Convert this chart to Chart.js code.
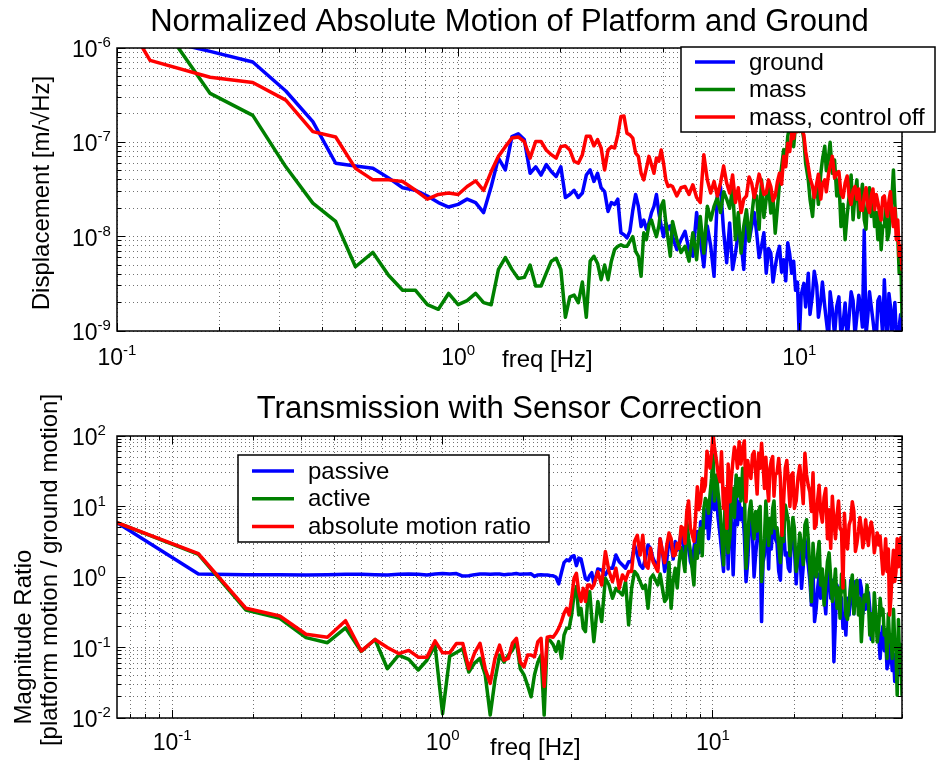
<!DOCTYPE html>
<html>
<head>
<meta charset="utf-8">
<title>Normalized Absolute Motion / Transmission</title>
<script src="https://cdn.jsdelivr.net/npm/chart.js@4.4.0/dist/chart.umd.min.js"></script>
<style>
  body { margin: 0; background: #fff; }
  #wrap { position: relative; width: 936px; height: 764px; }
  canvas { position: absolute; left: 0; }
  #top-plot { top: 0; }
  #bottom-plot { top: 380px; }
</style>
</head>
<body>
<div id="wrap">
  <canvas id="top-plot" width="936" height="380"></canvas>
  <canvas id="bottom-plot" width="936" height="384"></canvas>
</div>
<script>
// ---- top panel: absolute motion [m/sqrt(Hz)] ----
const topFreq = [0.0625, 0.125, 0.1875, 0.25, 0.3125, 0.375, 0.4375, 0.5, 0.5625, 0.625,
  0.6875, 0.75, 0.8125, 0.875, 0.9375, 1, 1.0625, 1.125, 1.1875, 1.25,
  1.3125, 1.375, 1.4375, 1.5, 1.5625, 1.625, 1.6875, 1.75, 1.8125, 1.875,
  1.9375, 2, 2.0625, 2.125, 2.1875, 2.25, 2.3125, 2.375, 2.4375, 2.5,
  2.5625, 2.625, 2.6875, 2.75, 2.8125, 2.875, 2.9375, 3, 3.0625, 3.125,
  3.1875, 3.25, 3.3125, 3.375, 3.4375, 3.5, 3.5625, 3.625, 3.6875, 3.75,
  3.8125, 3.875, 3.9375, 4, 4.0625, 4.125, 4.1875,
  4.25, 4.375, 4.5, 4.625, 4.75, 4.875, 5, 5.125, 5.25, 5.375, 5.5, 5.625, 5.75, 5.875, 6, 6.125,
  6.25, 6.375, 6.5, 6.625, 6.75, 6.875, 7, 7.125, 7.25, 7.375, 7.5, 7.625, 7.75, 7.875, 8, 8.125,
  8.25, 8.375, 8.5, 8.625, 8.75, 8.875, 9, 9.125, 9.25, 9.375, 9.5, 9.625, 9.75, 9.875, 10,
  10.125, 10.3125, 10.4375, 10.625, 10.75, 10.9375, 11.0625, 11.25, 11.375, 11.5625, 11.6875, 11.875,
  12, 12.1875, 12.3125, 12.5,
  12.6875, 12.875, 13.0625, 13.25, 13.4375, 13.625, 13.8125, 14, 14.1875, 14.375,
  14.5625, 14.75, 14.9375, 15.125, 15.3125, 15.5, 15.6875, 15.875, 16.0625, 16.25,
  16.4375, 16.625, 16.8125, 17, 17.1875, 17.375, 17.5625, 17.75, 17.9375, 18.125,
  18.3125, 18.5, 18.6875, 18.875, 19.0625, 19.25, 19.4375, 19.625, 19.8125, 20];

const ground = [2.5e-6, 1.3e-6, 9.2e-7, 7.1e-7, 3.5e-7, 1.66e-7, 6.0e-8, 5.6e-8, 5.3e-8, 4.2e-8,
  3.3e-8, 3.1e-8, 2.7e-8, 2.3e-8, 2.06e-8, 2.2e-8, 2.5e-8, 2.3e-8, 1.8e-8, 3.4e-8,
  6.8e-8, 5.1e-8, 1.15e-7, 1.23e-7, 1.07e-7, 4.7e-8, 5.5e-8, 4.5e-8, 5.8e-8, 4.9e-8,
  4.35e-8, 5.5e-8, 2.6e-8, 2.8e-8, 3.1e-8, 2.6e-8, 2.9e-8, 4.5e-8, 5.1e-8, 3.85e-8,
  4.7e-8, 3.3e-8, 3.0e-8, 1.85e-8, 2.3e-8, 2.2e-8, 2.5e-8, 1.1e-8, 1.05e-8, 9.7e-9,
  1.14e-8, 1.9e-8, 2.8e-8, 2.1e-8, 1.28e-8, 1.5e-8, 1.2e-8, 1.4e-8, 1.8e-8, 2.1e-8,
  2.8e-8, 1.8e-8, 1.3e-8, 1.0e-8, 1.4e-8, 1.2e-8, 1.3e-8,
  1.0e-8, 7.3e-9, 9.3e-9, 1.14e-8, 7.3e-9, 6.2e-9, 1.8e-8, 9.3e-9, 4.8e-9, 1.3e-8, 7.9e-9, 3.8e-9, 2.7e-8, 3.4e-8, 1.14e-8, 5.3e-9,
  1.4e-8, 4.5e-9, 6.7e-9, 1.1e-8, 8.6e-9, 4.5e-9, 1.78e-8, 9e-9, 1.28e-8, 1.8e-8, 1.09e-8, 6e-9, 7.9e-9, 1.1e-8, 4.1e-9, 7.5e-9,
  6.7e-9, 3.3e-9, 4.8e-9, 6.5e-9, 7.9e-9, 4.2e-9, 5.7e-9, 3.4e-9, 8.6e-9, 6.5e-9, 4.1e-9, 5.5e-9, 2.7e-9, 3.3e-9, 8e-10,
  2.4e-9, 3.2e-9, 1.8e-9, 4.1e-9, 1.5e-9, 2.5e-9, 4.3e-9, 3.0e-9, 1.4e-9, 2.1e-9, 3.3e-9, 1.82e-9,
  1.3e-9, 8e-10, 2.6e-9, 1.68e-9,
  9e-10, 1.82e-9, 2.3e-9, 9e-10, 1.2e-9, 1.98e-9, 8e-10, 1.43e-9, 2.6e-9, 2.1e-9,
  9e-10, 1.43e-9, 2.4e-9, 1.82e-9, 1.1e-9, 1.18e-8, 9e-10, 1.43e-9, 2.6e-9, 1.82e-9,
  1.3e-9, 9e-10, 8e-10, 2.1e-9, 2.3e-9, 1.55e-9, 9e-10, 3.5e-9, 1.5e-9, 8e-10,
  2.5e-9, 1.82e-9, 9e-10, 1.43e-9, 2.0e-9, 9e-10, 8e-10, 1.12e-9, 1.5e-9, 1.03e-9];

const mass = [1e-5, 2.7e-6, 3.3e-7, 1.93e-7, 5.5e-8, 2.27e-8, 1.45e-8, 4.8e-9, 6.8e-9, 3.9e-9,
  2.7e-9, 2.7e-9, 1.9e-9, 1.7e-9, 2.5e-9, 1.9e-9, 2.1e-9, 2.5e-9, 2.0e-9, 1.9e-9,
  4.5e-9, 6.0e-9, 4.5e-9, 3.6e-9, 3.7e-9, 5.0e-9, 3.0e-9, 3.0e-9, 4.1e-9, 5.5e-9,
  5.9e-9, 4.5e-9, 1.4e-9, 2.3e-9, 2.4e-9, 2.0e-9, 3.3e-9, 1.4e-9, 5.5e-9, 6.2e-9,
  5.2e-9, 3.5e-9, 5.0e-9, 3.5e-9, 5.5e-9, 7.3e-9, 7.9e-9, 8.2e-9, 7.9e-9, 7.9e-9,
  8.9e-9, 1.0e-8, 7.0e-9, 6.2e-9, 3.8e-9, 1.1e-8, 9.3e-9, 1.34e-8, 1.5e-8, 1.2e-8,
  1.0e-8, 1.3e-8, 2.1e-8, 2.4e-8, 1.4e-8, 9.3e-9, 6.2e-9,
  1.45e-8, 9.3e-9, 6.8e-9, 7.9e-9, 5.5e-9, 1.1e-8, 5.7e-9, 1.64e-8, 6.7e-9, 2.1e-8, 1.5e-8, 2.1e-8, 2.6e-8, 1.8e-8, 3.0e-8, 2.5e-8,
  2.0e-8, 3.3e-8, 9.3e-9, 1.8e-8, 6.7e-9, 1.3e-8, 1.93e-8, 9e-9, 1.64e-8, 2.8e-8, 2.7e-8, 1.2e-8, 4.0e-8, 1.6e-8, 2.5e-8, 3.5e-8,
  1.78e-8, 2.6e-8, 1.09e-8, 2.0e-8, 3.7e-8, 5.5e-8, 8.4e-8, 6e-8, 1.16e-7, 1.5e-7, 1.3e-7, 9e-8, 1.5e-7, 1.6e-7, 1.3e-7,
  1.6e-7, 1.07e-7, 6e-8, 4.0e-8, 2.5e-8, 1.64e-8, 3.0e-8, 3.4e-8, 2.2e-8, 4.7e-8, 6.5e-8, 9.1e-8,
  5.0e-8, 7.1e-8, 1.0e-7, 4.7e-8,
  6.5e-8, 2.7e-8, 4.0e-8, 1.28e-8, 2.2e-8, 9.3e-9, 1.7e-8, 2.7e-8, 4.5e-8, 1.51e-8,
  2.8e-8, 4.0e-8, 1.6e-8, 2.5e-8, 3.6e-8, 1.51e-8, 1.2e-8, 2.7e-8, 3.3e-8, 1.64e-8,
  2.4e-8, 1.28e-8, 1.8e-8, 9.3e-9, 2.0e-8, 7.3e-9, 1.3e-8, 1.28e-8, 2.2e-8, 9.3e-9,
  1.1e-8, 1.78e-8, 2.6e-8, 5.1e-8, 2.2e-8, 1.28e-8, 1.0e-8, 4.1e-9, 7e-9, 1.43e-9];

const massOff = [5e-5, 7.4e-7, 4.9e-7, 4.3e-7, 2.8e-7, 1.3e-7, 1.14e-7, 5.3e-8, 4.0e-8, 4.0e-8,
  3.85e-8, 3.1e-8, 2.5e-8, 2.8e-8, 2.9e-8, 2.8e-8, 3.4e-8, 3.9e-8, 3.1e-8, 4.9e-8,
  7.1e-8, 9.0e-8, 1.11e-7, 1.14e-7, 1.02e-7, 6.8e-8, 1.02e-7, 1.02e-7, 8.3e-8, 7.4e-8,
  6.8e-8, 9.0e-8, 9.2e-8, 8.3e-8, 6.3e-8, 6.0e-8, 7.4e-8, 1.16e-7, 1.16e-7, 9.2e-8,
  1.07e-7, 8.7e-8, 5.1e-8, 8.3e-8, 9.0e-8, 8.7e-8, 1.2e-7, 1.88e-7, 1.9e-7, 1.25e-7,
  1.2e-7, 1.11e-7, 7.7e-8, 7.1e-8, 4.7e-8, 4.0e-8, 5.3e-8, 7.1e-8, 5.8e-8, 4.7e-8,
  6.8e-8, 6.3e-8, 8.3e-8, 6.0e-8, 4.0e-8, 3.4e-8, 3.5e-8,
  3.4e-8, 2.7e-8, 3.3e-8, 3.4e-8, 2.8e-8, 3.55e-8, 2.6e-8, 2.3e-8, 7.4e-8, 4.0e-8, 2.9e-8, 3.85e-8, 2.7e-8, 3.7e-8, 5.6e-8, 3.7e-8,
  2.9e-8, 4.5e-8, 2.3e-8, 3.3e-8, 1.8e-8, 2.5e-8, 2.7e-8, 4.3e-8, 3.7e-8, 2.6e-8, 3.4e-8, 4.6e-8, 3.7e-8, 2.8e-8, 2.9e-8, 4.0e-8,
  3.4e-8, 2.4e-8, 2.7e-8, 3.8e-8, 4.7e-8, 3.6e-8, 7.1e-8, 5.5e-8, 9.8e-8, 8e-8, 1.26e-7, 1.1e-7, 1.5e-7, 1.3e-7, 1.6e-7,
  1.4e-7, 1.2e-7, 8e-8, 5.5e-8, 4.2e-8, 3.4e-8, 2.6e-8, 3.7e-8, 4.6e-8, 2.5e-8, 3.6e-8, 4.0e-8,
  3.0e-8, 4.7e-8, 5.6e-8, 7.1e-8,
  4.2e-8, 4.7e-8, 4.9e-8, 2.9e-8, 2.6e-8, 3.7e-8, 4.4e-8, 2.7e-8, 2.2e-8, 3.1e-8,
  3.4e-8, 2.5e-8, 3.2e-8, 1.93e-8, 1.9e-8, 2.7e-8, 3.3e-8, 2.1e-8, 1.8e-8, 2.7e-8,
  3.2e-8, 1.93e-8, 2.8e-8, 2.3e-8, 1.8e-8, 1.5e-8, 2.6e-8, 2.7e-8, 2.0e-8, 1.64e-8,
  2.4e-8, 3.0e-8, 1.7e-8, 1.28e-8, 2.0e-8, 9.3e-9, 1.5e-8, 6.2e-9, 8e-9, 4.5e-9];

// ---- bottom panel: platform / ground magnitude ratio ----
const bottomFreq = [0.0625, 0.125, 0.1875, 0.25, 0.3125, 0.375, 0.4375, 0.5, 0.5625, 0.625,
  0.6875, 0.75, 0.8125, 0.875, 0.9375, 1, 1.0625, 1.125, 1.1875, 1.25,
  1.3125, 1.375, 1.4375, 1.5, 1.5625, 1.625, 1.6875, 1.75, 1.8125, 1.875,
  1.9375, 2, 2.0625, 2.125, 2.1875, 2.25, 2.3125, 2.375, 2.4375, 2.5,
  2.5625, 2.625, 2.6875, 2.75, 2.8125, 2.875, 2.9375, 3, 3.0625, 3.125,
  3.1875, 3.25, 3.3125, 3.375, 3.4375, 3.5, 3.5625, 3.625, 3.6875, 3.75,
  3.875, 4, 4.125, 4.25, 4.375, 4.5, 4.625, 4.75, 4.875, 5, 5.125, 5.25, 5.375, 5.5, 5.625, 5.75, 5.875, 6,
  6.25, 6.375, 6.5, 6.625, 6.75, 6.875, 7, 7.125, 7.25, 7.375, 7.5, 7.625, 7.75, 7.875, 8, 8.125,
  8.25, 8.375, 8.5, 8.625, 8.75, 8.875, 9, 9.125, 9.25, 9.375, 9.5, 9.625, 9.75, 9.875, 10,
  10.125, 10.3125, 10.4375, 10.625, 10.75, 10.9375, 11.0625, 11.25, 11.375, 11.5625, 11.6875, 11.875,
  12, 12.1875, 12.3125, 12.5,
  12.6875, 12.875, 13.0625, 13.25, 13.4375, 13.625, 13.8125, 14, 14.1875, 14.375,
  14.5625, 14.75, 14.9375, 15.125, 15.3125, 15.5, 15.6875, 15.875, 16.0625, 16.25, 16.4375, 16.625, 16.8125, 17,
  17.25, 17.5, 17.75, 18, 18.25, 18.5, 18.75, 19, 19.25, 19.5, 19.75, 20,
  20.3125, 20.625, 20.9375, 21.25, 21.5625, 21.875, 22.1875, 22.5, 22.8125, 23.125, 23.4375, 23.75,
  24.0625, 24.375, 24.6875, 25,
  25.375, 25.75, 26.125, 26.5, 26.875, 27.25, 27.625, 28, 28.375, 28.75, 29.125, 29.5, 29.875, 30.25, 30.625, 31,
  31.4375, 31.875, 32.3125, 32.75, 33.1875, 33.625, 34.0625, 34.5, 34.9375, 35.375, 35.8125, 36.25, 36.6875, 37.125,
  37.5625, 38, 38.5, 39, 39.5, 40, 40.5, 41, 41.5, 42, 42.5, 43, 43.5, 44, 44.5, 45,
  45.5, 46, 46.5, 47, 47.5, 48, 48.5, 49, 49.5, 50];

const passive = [5.9, 1.1, 1.08, 1.08, 1.07, 1.08, 1.09, 1.09, 1.08, 1.07,
  1.09, 1.1, 1.09, 1.07, 1.1, 1.12, 1.1, 1.12, 1.03, 1.04,
  1.08, 1.1, 1.1, 1.09, 1.1, 1.1, 1.08, 1.09, 1.1, 1.12,
  1.09, 1.1, 1.1, 1.11, 1.02, 1.07, 1.08, 1.07, 1.07, 1.05,
  1.04, 1.0, 0.8, 1.15, 1.6, 1.75, 1.7, 1.95, 2.0, 1.45,
  1.85, 1.8, 1.3, 0.95, 0.9, 1.05, 1.15, 0.8, 1.0, 1.3,
  1.25, 1.07, 1.33, 1.33, 2.05, 1.65, 1.48, 1.33, 1.65, 1.65, 2.85, 2.05, 1.48, 1.33, 1.84, 2.85, 2.55, 1.84,
  1.33, 3.5, 2.3, 1.2, 1.75, 3.6, 2.85, 1.8, 3.2, 2.4, 3.0, 4.2, 2.85, 1.5, 5.5, 2.8,
  1.65, 1.4, 2.55, 3.8, 4.4, 2.2, 6.1, 3.5, 8.5, 5, 9.4, 3.5, 6.1, 12, 22.5,
  9, 14.6, 7, 3.9, 2.4, 1.2, 5.5, 8.5, 1.3, 14.6, 6.0, 1.07,
  3.5, 25, 5.5, 11.7,
  6.5, 9.4, 3.8, 0.86, 1.6, 4.9, 7.5, 3.9, 1.0, 2.05,
  3.5, 8.5, 5.5, 0.233, 1.6, 2.05, 6.5, 4.9, 1.3, 5.5, 2.5, 6.8, 5.0, 3.5,
  3.0, 1.2, 0.9, 4.4, 4.8, 2.05, 2.2, 1.33, 1.2, 3.5, 4.0, 2.55,
  0.8, 2.55, 2.8, 0.69, 1.4, 3.5, 2.2, 1.48, 0.9, 0.4, 1.3, 0.233,
  0.35, 0.69, 1.1, 0.5,
  0.8, 0.556, 0.3, 0.96, 1.2, 0.5, 0.9, 0.063, 0.25, 0.77, 0.6, 0.36, 0.5, 0.187, 0.3, 0.15,
  0.5, 0.289, 0.9, 0.556, 0.3, 0.86, 0.4, 0.62, 0.9, 0.69, 0.3, 0.5, 0.35, 0.556,
  0.6, 0.36, 0.13, 0.233, 0.3, 0.187, 0.22, 0.15, 0.07, 0.15, 0.2, 0.09, 0.15, 0.05, 0.06, 0.11,
  0.09, 0.047, 0.08, 0.033, 0.05, 0.041, 0.12, 0.078, 0.04, 0.063];

const active = [5.9, 2.1, 0.34, 0.26, 0.138, 0.117, 0.19, 0.088, 0.13, 0.05,
  0.078, 0.068, 0.048, 0.066, 0.107, 0.0115, 0.075, 0.085, 0.096, 0.045,
  0.06, 0.07, 0.041, 0.011, 0.035, 0.078, 0.062, 0.078, 0.092, 0.121,
  0.05, 0.041, 0.029, 0.02, 0.041, 0.062, 0.078, 0.011, 0.13, 0.125,
  0.11, 0.088, 0.121, 0.07, 0.15, 0.187, 0.187, 0.29, 0.556, 0.73,
  0.29, 0.36, 0.187, 0.168, 0.45, 0.62, 0.26, 0.121, 0.23, 0.45,
  0.233, 0.96, 0.77, 0.5, 0.69, 0.62, 0.556, 0.86, 0.21, 0.69, 1.2, 1.07, 0.86, 0.69, 0.77, 0.36, 0.96, 1.07,
  0.77, 1.1, 0.69, 0.45, 0.5, 1.6, 0.36, 0.9, 1.33, 0.7, 1.65, 2.6, 1.84, 1.2, 6.1, 3.5,
  2.3, 1.3, 0.77, 2.8, 1.84, 4.0, 4.9, 2.0, 9.4, 13, 11.7, 8, 14.6, 25, 54,
  12, 28, 16, 8.5, 4.5, 1.48, 9, 3.9, 2.2, 3.9, 11, 18.1,
  7, 28, 14, 25,
  12, 35, 18, 1.33, 3.2, 8.5, 12, 6.1, 3.5, 8.5,
  4.5, 8.5, 10, 0.86, 1.8, 3.5, 12, 5.5, 2.8, 6.8, 4.2, 9.4, 12, 4.9,
  5.0, 2.85, 1.6, 5.5, 3.2, 10.5, 8.0, 6.1, 2.0, 3.5, 7.0, 4.9,
  1.2, 2.05, 4.2, 2.85, 1.5, 5.5, 6.5, 3.5, 1.3, 0.447, 3.0, 1.33,
  1.0, 2.05, 3.2, 0.77,
  1.3, 0.4, 0.8, 1.65, 2.2, 0.96, 0.45, 0.69, 1.3, 0.36, 0.7, 0.26, 1.1, 0.62, 0.9, 0.289,
  0.25, 0.447, 0.75, 1.07, 0.3, 0.556, 0.9, 0.289, 0.5, 0.121, 0.3, 0.556, 0.45, 0.77,
  0.45, 0.15, 0.3, 0.121, 0.6, 0.289, 0.12, 0.187, 0.5, 0.289, 0.35, 0.15, 0.18, 0.07, 0.3, 0.121,
  0.15, 0.07, 0.35, 0.121, 0.09, 0.021, 0.25, 0.063, 0.11, 0.021];

const absRatio = [5.9, 2.15, 0.36, 0.28, 0.154, 0.14, 0.24, 0.089, 0.13, 0.1,
  0.082, 0.091, 0.073, 0.073, 0.124, 0.084, 0.084, 0.114, 0.114, 0.05,
  0.083, 0.115, 0.05, 0.031, 0.07, 0.108, 0.066, 0.07, 0.115, 0.135,
  0.062, 0.053, 0.078, 0.078, 0.074, 0.121, 0.135, 0.028, 0.14, 0.143,
  0.14, 0.159, 0.187, 0.233, 0.305, 0.36, 0.29, 0.5, 0.96, 1.13,
  0.62, 0.45, 0.69, 0.45, 0.77, 0.77, 0.69, 0.77, 0.96, 1.19,
  0.77, 2.3, 1.2, 0.86, 1.33, 0.69, 1.07, 0.9, 1.2, 1.2, 3.2, 3.9, 2.05, 3.9, 1.48, 1.33, 2.55, 1.65,
  1.2, 3.5, 2.3, 1.6, 2.85, 4.2, 3.5, 2.0, 2.05, 3.0, 2.55, 5.2, 4.9, 3.0, 8.5, 12,
  4.9, 4.0, 3.2, 7.5, 19, 9.0, 11.7, 25, 16.5, 20, 61, 45, 35, 55, 110,
  70, 43, 30, 22.5, 60, 9.4, 18, 4.9, 40, 11.7, 25, 48,
  70, 54, 35, 83,
  40, 67, 85, 11.7, 45, 31, 25, 54, 60, 31,
  15, 57, 35, 79, 40, 18, 50, 20, 12, 35, 45, 51, 14, 28,
  30, 48, 25, 3.9, 12, 35, 45, 22.5, 10, 28, 30, 9.4,
  12, 26, 38, 22.5, 11, 57, 28, 20, 16, 8.5, 30, 4.9,
  5.5, 12.5, 20, 8.5,
  6, 13.5, 18, 3.5, 9, 2.55, 14, 6.1, 3.5, 7.6, 12, 4.9, 4.5, 0.7, 8, 3.2,
  2.5, 5.5, 6.5, 11.7, 8.5, 2.3, 3, 4.4, 7, 4.9, 2.6, 3.5, 6.5, 3.9,
  2.8, 4.9, 6.0, 4.4, 2.2, 3.2, 4.2, 2.85, 3.8, 2.05, 1.1, 1.65, 3.5, 1.2, 2.5, 0.289,
  0.5, 1.33, 2.4, 0.86, 1.2, 3.5, 1.4, 2.85, 3.6, 0.86];

// labelled decades on each axis
const topXTicks = [0.1, 1, 10];
const topYTicks = [1e-9, 1e-8, 1e-7, 1e-6];
const bottomXTicks = [0.1, 1, 10];
const bottomYTicks = [1e-2, 1e-1, 1, 10, 100];

const FONT = '"Liberation Sans", Arial, Helvetica, sans-serif';
const GRID = 'rgba(0,0,0,0.55)';

// 1..9 x 10^n positions for the dotted grid
function gridValues(min, max) {
  const out = [];
  for (let d = Math.floor(Math.log10(min)); d <= Math.ceil(Math.log10(max)); d++) {
    for (let m = 1; m <= 9; m++) {
      const v = m * Math.pow(10, d);
      if (v >= min * 0.999999 && v <= max * 1.000001) out.push(v);
    }
  }
  return out;
}

function isDecade(v) {
  const e = Math.log10(v);
  return Math.abs(e - Math.round(e)) < 1e-6;
}

function powerLabel(ctx, value, x, y, centred) {
  const exp = String(Math.round(Math.log10(value)));
  ctx.font = '23px ' + FONT;
  const wBase = ctx.measureText('10').width;
  ctx.font = '15px ' + FONT;
  const wExp = ctx.measureText(exp).width;
  const x0 = centred ? x - (wBase + wExp) / 2 : x;
  ctx.textAlign = 'left';
  ctx.textBaseline = 'alphabetic';
  ctx.font = '23px ' + FONT;
  ctx.fillText('10', x0, y);
  ctx.font = '15px ' + FONT;
  ctx.fillText(exp, x0 + wBase, y - 10);
}

// box, inside ticks, tick labels, titles and legend (matlab look)
const frame = {
  id: 'frame',
  afterDraw(chart, args, o) {
    const ctx = chart.ctx, a = chart.chartArea;
    const xs = chart.scales.x, ys = chart.scales.y;
    ctx.save();
    ctx.setLineDash([]);
    ctx.strokeStyle = '#000';
    ctx.lineWidth = 1;
    ctx.beginPath();
    xs.ticks.forEach(t => {
      const p = Math.round(xs.getPixelForValue(t.value) - 0.5) + 0.5;
      const len = isDecade(t.value) ? 8 : 4;
      ctx.moveTo(p, a.bottom); ctx.lineTo(p, a.bottom - len);
      ctx.moveTo(p, a.top); ctx.lineTo(p, a.top + len);
    });
    ys.ticks.forEach(t => {
      const p = Math.round(ys.getPixelForValue(t.value) - 0.5) + 0.5;
      const len = isDecade(t.value) ? 8 : 4;
      ctx.moveTo(a.left, p); ctx.lineTo(a.left + len, p);
      ctx.moveTo(a.right, p); ctx.lineTo(a.right - len, p);
    });
    ctx.stroke();
    ctx.lineWidth = 1.5;
    ctx.strokeRect(a.left, a.top, a.right - a.left, a.bottom - a.top);

    ctx.fillStyle = '#000';
    o.xTicks.forEach(v => powerLabel(ctx, v, xs.getPixelForValue(v), a.bottom + o.xTickDy, true));
    o.yTicks.forEach(v => powerLabel(ctx, v, a.left - 45, ys.getPixelForValue(v) + 9, false));

    ctx.textBaseline = 'alphabetic';
    ctx.textAlign = 'center';
    ctx.font = '31px ' + FONT;
    ctx.fillText(o.title, (a.left + a.right) / 2, o.titleY);

    ctx.font = '24px ' + FONT;
    ctx.textAlign = 'left';
    ctx.fillText('freq [Hz]', o.xTitle.x, o.xTitle.y);

    o.yTitle.forEach(t => {
      ctx.save();
      ctx.translate(t.x, t.y);
      ctx.rotate(-Math.PI / 2);
      ctx.textAlign = 'center';
      ctx.fillText(t.text, 0, 0);
      ctx.restore();
    });

    const L = o.legend;
    ctx.fillStyle = '#fff';
    ctx.fillRect(L.x, L.y, L.w, L.h);
    ctx.strokeStyle = '#000';
    ctx.lineWidth = 1.5;
    ctx.strokeRect(L.x, L.y, L.w, L.h);
    chart.data.datasets.forEach((ds, i) => {
      const y = L.y + L.first + i * L.step;
      ctx.strokeStyle = ds.borderColor;
      ctx.lineWidth = 3.5;
      ctx.beginPath();
      ctx.moveTo(L.x + L.lineFrom, y);
      ctx.lineTo(L.x + L.lineTo, y);
      ctx.stroke();
      ctx.fillStyle = '#000';
      ctx.textBaseline = 'middle';
      ctx.textAlign = 'left';
      ctx.font = '24px ' + FONT;
      ctx.fillText(ds.label, L.x + L.textX, y + 1);
    });
    ctx.restore();
  }
};

const lineSet = (label, freq, values, color, order) => ({
  label, order,
  data: freq.map((f, i) => ({ x: f, y: values[i] })),
  borderColor: color,
  backgroundColor: color,
  borderWidth: 3.5,
  pointRadius: 0,
  tension: 0,
  fill: false,
  borderJoinStyle: 'round',
  borderCapStyle: 'round'
});

function panelOptions(xMin, xMax, yMin, yMax, padding, deco) {
  const axis = (min, max, horizontal) => ({
    type: 'logarithmic',
    min, max,
    afterBuildTicks: s => { s.ticks = gridValues(min, max).map(v => ({ value: v })); },
    afterFit: s => { if (horizontal) s.height = 0; else s.width = 0; },
    ticks: { display: false },
    grid: { color: GRID, lineWidth: 1, drawTicks: false },
    border: { display: false, dash: [1, 3] }
  });
  return {
    responsive: false,
    animation: false,
    events: [],
    layout: { padding },
    scales: { x: axis(xMin, xMax, true), y: axis(yMin, yMax, false) },
    plugins: { legend: { display: false }, tooltip: { enabled: false }, frame: deco }
  };
}

new Chart(document.getElementById('top-plot'), {
  type: 'line',
  data: {
    datasets: [
      lineSet('ground', topFreq, ground, '#0000ff', 2),
      lineSet('mass', topFreq, mass, '#008000', 1),
      lineSet('mass, control off', topFreq, massOff, '#ff0000', 0)
    ]
  },
  options: panelOptions(0.1, 20, 1e-9, 1e-6, { left: 117, top: 48, right: 34, bottom: 49 }, {
    title: 'Normalized Absolute Motion of Platform and Ground',
    titleY: 31,
    xTicks: topXTicks, yTicks: topYTicks, xTickDy: 34,
    xTitle: { x: 502, y: 367 },
    yTitle: [{ text: 'Displacement [m/\u221AHz]', x: 49, y: 193 }],
    legend: { x: 681, y: 47, w: 254, h: 85, first: 15, step: 27.5, lineFrom: 14, lineTo: 54, textX: 68 }
  }),
  plugins: [frame]
});

new Chart(document.getElementById('bottom-plot'), {
  type: 'line',
  data: {
    datasets: [
      lineSet('passive', bottomFreq, passive, '#0000ff', 2),
      lineSet('active', bottomFreq, active, '#008000', 1),
      lineSet('absolute motion ratio', bottomFreq, absRatio, '#ff0000', 0)
    ]
  },
  options: panelOptions(0.0625, 50, 1e-2, 1e2, { left: 117, top: 56, right: 34, bottom: 46 }, {
    title: 'Transmission with Sensor Correction',
    titleY: 38,
    xTicks: bottomXTicks, yTicks: bottomYTicks, xTickDy: 32,
    xTitle: { x: 490, y: 375 },
    yTitle: [
      { text: 'Magnitude Ratio', x: 31, y: 257 },
      { text: '[platform motion / ground motion]', x: 57, y: 190 }
    ],
    legend: { x: 238, y: 75, w: 311, h: 87, first: 16, step: 27.7, lineFrom: 14, lineTo: 56, textX: 70 }
  }),
  plugins: [frame]
});
</script>
</body>
</html>
